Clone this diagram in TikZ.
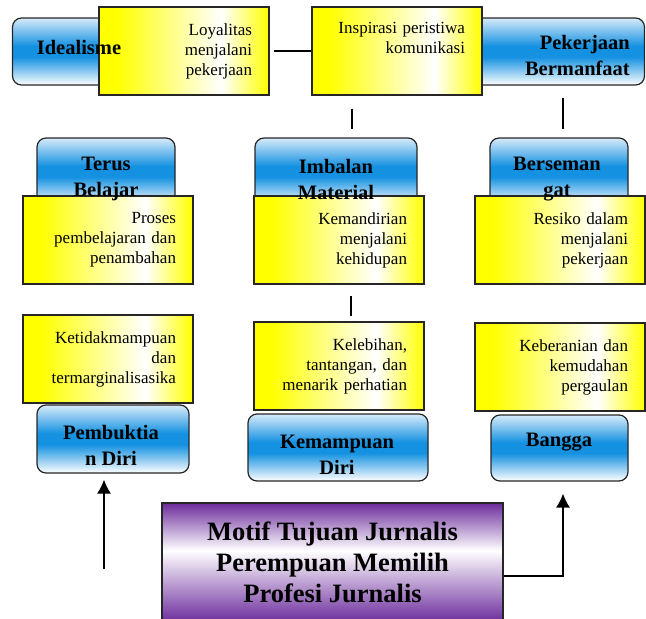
\documentclass[tikz,border=0pt]{standalone}
\usepackage{fontspec}
\setmainfont{Liberation Serif}
\usetikzlibrary{arrows.meta}

\definecolor{barblue}{RGB}{20,145,225}
\definecolor{paleblue}{RGB}{215,235,250}
\definecolor{motifpurple}{RGB}{108,44,156}

\pgfdeclareverticalshading{bluebar}{100bp}{color(0bp)=(white); color(25bp)=(white); color(46bp)=(barblue); color(54bp)=(barblue); color(75bp)=(paleblue); color(100bp)=(paleblue)}
\pgfdeclarehorizontalshading{yellowfade}{100bp}{color(0bp)=(yellow); color(30bp)=(yellow); color(61bp)=(white); color(75bp)=(yellow); color(100bp)=(yellow)}
\pgfdeclareverticalshading{purplefade}{100bp}{color(0bp)=(motifpurple); color(25bp)=(motifpurple); color(55bp)=(white); color(75bp)=(motifpurple); color(100bp)=(motifpurple)}

\tikzset{
	bluebox/.style={draw=black!85, line width=1.2pt, rounded corners=9pt, shade, shading=bluebar, inner sep=0pt},
	bluetext/.style={font=\fontsize{20.5}{26}\selectfont\bfseries, align=center, inner sep=0pt},
	yellowbox/.style={draw=black!85, line width=1.2pt, shade, shading=yellowfade, minimum height=88pt, text width=136pt, inner xsep=17pt, inner ysep=0pt, align=right, font=\fontsize{17}{20}\selectfont},
	motifbox/.style={draw=black!85, line width=1.2pt, shade, shading=purplefade, minimum width=341pt, minimum height=119pt, align=center, font=\fontsize{26.5}{31}\selectfont\bfseries},
	link/.style={line width=1.4pt},
	uparrow/.style={link, -{Latex[length=14pt,width=14pt]}}
}

\begin{document}
\begin{tikzpicture}[x=1pt, y=-1pt]
		%%%%% START %%%%%
		\useasboundingbox (0, 0) rectangle (646, 619);
		
		% blue bars, drawn first so the notes cover them
		\node[bluebox, minimum width=147pt, minimum height=67pt] (idealisme) at (86, 51.5) {};
		\node[bluebox, minimum width=195pt, minimum height=67pt] (pekerjaan) at (547, 51.5) {};
		\node[bluebox, minimum width=138pt, minimum height=67pt] (terus) at (106, 171.5) {};
		\node[bluebox, minimum width=162pt, minimum height=67pt] (imbalan) at (336, 171.5) {};
		\node[bluebox, minimum width=138pt, minimum height=67pt] (berseman) at (559, 171.5) {};
		\node[bluebox, minimum width=152pt, minimum height=68pt] (pembuktian) at (113, 439) {};
		\node[bluebox, minimum width=180pt, minimum height=67pt] (kemampuan) at (338, 447.5) {};
		\node[bluebox, minimum width=137pt, minimum height=66pt] (bangga) at (559.5, 448) {};
		
		% yellow notes
		\node[yellowbox] (loyalitas) at (184, 51) {Loyalitas\\menjalani\\pekerjaan};
		\node[yellowbox] (inspirasi) at (397, 51) {Inspirasi peristiwa\\komunikasi\\\strut};
		\node[yellowbox] (proses) at (108, 240) {Proses\\pembelajaran dan\\penambahan};
		\node[yellowbox] (kemandirian) at (339, 240) {Kemandirian\\menjalani\\kehidupan};
		\node[yellowbox] (resiko) at (560, 240) {Resiko dalam\\menjalani\\pekerjaan};
		\node[yellowbox] (ketidak) at (108, 359) {Ketidakmampuan\\dan\\termarginalisasika};
		\node[yellowbox] (kelebihan) at (339, 366) {Kelebihan,\\tantangan, dan\\menarik perhatian};
		\node[yellowbox] (keberanian) at (560, 367) {Keberanian dan\\kemudahan\\pergaulan};
		
		% bar titles on top of everything
		\node[bluetext] (idealisme-t) at (79, 47) {Idealisme};
		\node[bluetext, align=right, anchor=east] (pekerjaan-t) at (630, 55) {Pekerjaan\\Bermanfaat};
		\node[bluetext] (terus-t) at (106, 179) {Terus\\Belajar};
		\node[bluetext] (imbalan-t) at (336, 179) {Imbalan\\Material};
		\node[bluetext] (berseman-t) at (557, 179) {Berseman\\gat};
		\node[bluetext] (pembuktian-t) at (111, 445) {Pembuktia\\n Diri};
		\node[bluetext] (kemampuan-t) at (337, 455) {Kemampuan\\Diri};
		\node[bluetext] (bangga-t) at (559, 442) {Bangga};
		
		\node[motifbox] (motif) at (332.5, 562.5) {Motif Tujuan Jurnalis\\Perempuan Memilih\\Profesi Jurnalis};
		
		% connectors
		\draw[link, shorten <=4pt] (loyalitas) -- (inspirasi);
		\draw[link, shorten <=13pt, shorten >=8pt] (inspirasi.south -| 352, 0) -- (imbalan.north -| 352, 0);
		\draw[link, shorten <=12pt, shorten >=8pt] (pekerjaan.south -| 563, 0) -- (berseman.north -| 563, 0);
		\draw[link, shorten <=11pt, shorten >=5pt] (kemandirian.south -| 351, 0) -- (kelebihan.north -| 351, 0);
		
		\coordinate (start) at (104, 569);
		\draw[uparrow, shorten >=6pt] (start) -- (pembuktian.south -| start);
		
		\coordinate (turn) at (563, 576);
		\draw[uparrow, shorten >=12pt] (motif.east |- turn) -- (turn) -- (bangga.south -| turn);
		
		%%%%% END %%%%%
	\end{tikzpicture}
\end{document}
